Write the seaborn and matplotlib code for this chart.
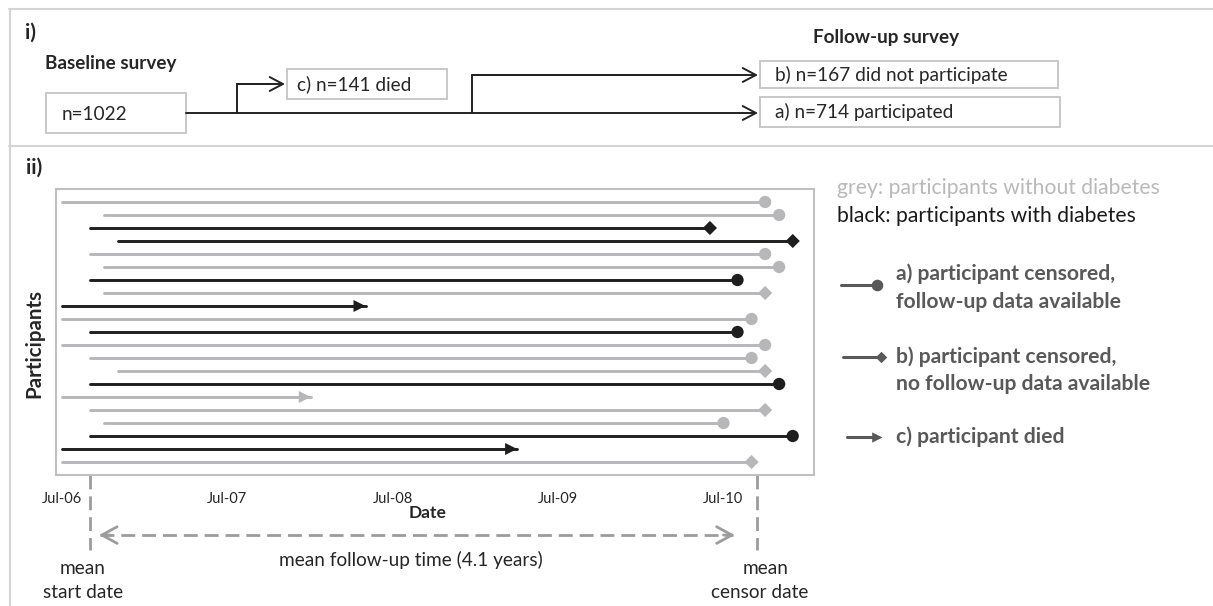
import numpy as np
import pandas as pd
import matplotlib
matplotlib.use("Agg")
import matplotlib.pyplot as plt
import matplotlib.dates as mdates
from matplotlib.path import Path
from matplotlib.patches import Rectangle
from matplotlib.transforms import blended_transform_factory, ScaledTranslation
import seaborn as sns

# ------------------------------------------------------------------ data
participant = list(range(1, 22))
diabetes = ["no", "no", "yes", "yes", "no", "no", "yes", "no", "yes", "no", "yes",
            "no", "no", "no", "yes", "no", "no", "no", "yes", "yes", "no"]
start_date = ["2006-07-15", "2006-10-15", "2006-09-15", "2006-11-15", "2006-09-15",
              "2006-10-15", "2006-09-15", "2006-10-15", "2006-07-15", "2006-07-15",
              "2006-09-15", "2006-07-15", "2006-09-15", "2006-11-15", "2006-09-15",
              "2006-07-15", "2006-09-15", "2006-10-15", "2006-09-15", "2006-07-15",
              "2006-07-15"]
end_date = ["2010-10-15", "2010-11-15", "2010-06-15", "2010-12-15", "2010-10-15",
            "2010-11-15", "2010-08-15", "2010-10-15", "2008-05-15", "2010-09-15",
            "2010-08-15", "2010-10-15", "2010-09-15", "2010-10-15", "2010-11-15",
            "2008-01-15", "2010-10-15", "2010-07-15", "2010-12-15", "2009-04-15",
            "2010-09-15"]
outcome = ["a", "a", "b", "b", "a", "a", "a", "b", "c", "a", "a",
           "a", "a", "b", "a", "c", "b", "a", "a", "c", "b"]

tick_dates = ["2006-07-01", "2007-07-01", "2008-07-01", "2009-07-01", "2010-07-01"]
tick_labels = ["Jul-06", "Jul-07", "Jul-08", "Jul-09", "Jul-10"]
x_range = ["2006-07-01", "2011-01-31"]
mean_start_date = "2006-09-14"
mean_censor_date = "2010-09-26"
mean_follow_up_years = 4.1

n_baseline = 1022
n_died = 141
n_not_participated = 167
n_participated = 714

# ------------------------------------------------------------------ style
sns.set_style("white")
plt.rcParams["font.family"] = ["Lato", "DejaVu Sans"]
TXT = "#262626"
GREY = "#b7b7ba"
BLACK = "#1e1e1e"
LEG = "#595959"
FRAME = "#d4d4d4"
DASH = "#9c9c9c"

W, H = 1213, 606
fig = plt.figure(figsize=(W / 100, H / 100), dpi=100)
fig.patch.set_facecolor("white")

bg = fig.add_axes([0, 0, 1, 1], zorder=0)
bg.set_xlim(0, W)
bg.set_ylim(H, 0)
bg.axis("off")

ax = fig.add_axes([56 / W, 1 - 475 / H, 758 / W, 286 / H], zorder=1)

# ------------------------------------------------------------------ timeline (panel ii)
df = pd.DataFrame({
    "participant": participant,
    "diabetes": diabetes,
    "start": pd.to_datetime(start_date),
    "end": pd.to_datetime(end_date),
    "outcome": outcome,
})
df["row"] = df["participant"]
long = df.melt(id_vars=["participant", "diabetes", "outcome", "row"],
               value_vars=["start", "end"], value_name="date")

pal = {"no": GREY, "yes": BLACK}
sns.lineplot(data=long, x="date", y="row", hue="diabetes", units="participant",
             estimator=None, palette=pal, linewidth=2.1, legend=False, ax=ax)

arrow_head = Path([(0, 0), (-1, 0.5), (-1, -0.5), (0, 0)],
                  [Path.MOVETO, Path.LINETO, Path.LINETO, Path.CLOSEPOLY])
sns.scatterplot(data=df, x="end", y="row", hue="diabetes", style="outcome",
                size="outcome",
                markers={"a": "o", "b": "D", "c": arrow_head},
                sizes={"a": 78, "b": 52, "c": 300},
                palette=pal, linewidth=0, legend=False, zorder=3, ax=ax)

ax.set_xlim(pd.Timestamp(x_range[0]), pd.Timestamp(x_range[1]))
ax.set_ylim(22, 0)
ax.set_yticks([])
ax.set_xticks(mdates.date2num(pd.to_datetime(tick_dates)))
ax.set_xticklabels(tick_labels)
ax.tick_params(axis="x", direction="out", length=5, width=1, color="#bfbfbf",
               labelsize=10.5, pad=7, labelcolor=TXT)
for lbl in ax.get_xticklabels():
    lbl.set_transform(lbl.get_transform() + ScaledTranslation(6 / 100, 0, fig.dpi_scale_trans))
for s in ax.spines.values():
    s.set_color("#c0c0c0")
    s.set_linewidth(1.5)

ax.set_xlabel("Date", fontsize=12.5, fontweight="bold", color=TXT)
ax.xaxis.set_label_coords(0.49, -0.133)
ax.xaxis.label.set_va("center")
ax.set_ylabel("Participants", fontsize=14.8, fontweight="bold", color=TXT)
ax.yaxis.label.set_va("center")
ax.yaxis.set_label_coords(-0.028, 0.46)

# mean start / censor markers below the axis
trans = blended_transform_factory(ax.transData, ax.transAxes)
ms = mdates.date2num(pd.Timestamp(mean_start_date))
mc = mdates.date2num(pd.Timestamp(mean_censor_date))
for xd in (ms, mc):
    ax.plot([xd, xd], [0, -0.262], transform=trans, clip_on=False, color=DASH,
            lw=2, dashes=(5, 2.5), solid_capstyle="butt", dash_capstyle="butt")
y_arr = -0.21
left_tip = ms + 20
right_tip = mc - 48
ax.plot([left_tip + 3, right_tip - 3], [y_arr, y_arr], transform=trans, clip_on=False,
        color=DASH, lw=2, dashes=(5, 2.5), dash_capstyle="butt")
for tip, tail in ((left_tip, left_tip + 25), (right_tip, right_tip - 25)):
    ax.annotate("", xy=(tip, y_arr), xytext=(tail, y_arr), xycoords=trans,
                textcoords=trans, annotation_clip=False,
                arrowprops=dict(arrowstyle="->,head_length=1.1,head_width=0.6",
                                color=DASH, lw=2, shrinkA=0, shrinkB=0))

FS_M = 13.7
bg.text(411, 560, f"mean follow-up time ({mean_follow_up_years} years)",
        fontsize=FS_M, color=TXT, ha="center", va="center")
bg.text(83, 568, "mean", fontsize=FS_M, color=TXT, ha="center", va="center")
bg.text(83, 593, "start date", fontsize=FS_M, color=TXT, ha="center", va="center")
bg.text(766, 568, "mean", fontsize=FS_M, color=TXT, ha="center", va="center")
bg.text(760, 593, "censor date", fontsize=FS_M, color=TXT, ha="center", va="center")

# ------------------------------------------------------------------ frame
bg.plot([9, W], [9, 9], color=FRAME, lw=1.5)
bg.plot([9, W], [146, 146], color=FRAME, lw=1.5)
bg.plot([10, 10], [9, H], color=FRAME, lw=1.5)

# ------------------------------------------------------------------ flow chart (panel i)
bg.text(25, 33, "i)", fontsize=15, fontweight="bold", color=TXT, ha="left", va="center")
bg.text(26, 168, "ii)", fontsize=15, fontweight="bold", color=TXT, ha="left", va="center")
bg.text(45, 63, "Baseline survey", fontsize=13.6, fontweight="bold", color=TXT,
        ha="left", va="center")
bg.text(813, 37, "Follow-up survey", fontsize=13.6, fontweight="bold", color=TXT,
        ha="left", va="center")

BOX = "#c8c8c8"
FS_B = 13.7
boxes = [
    ((46, 93, 140, 40), f"n={n_baseline}", (62, 114)),
    ((287, 69, 160, 30), f"c) n={n_died} died", (297, 84)),
    ((760, 61, 298, 27), f"b) n={n_not_participated} did not participate", (775, 75)),
    ((760, 97, 300, 30), f"a) n={n_participated} participated", (775, 112)),
]
for (x0, y0, w, h), label, (tx, ty) in boxes:
    bg.add_patch(Rectangle((x0, y0), w, h, fill=False, edgecolor=BOX, lw=1.4))
    bg.text(tx, ty, label, fontsize=FS_B, color=TXT, ha="left", va="center")

FL = "#222222"
bg.plot([237, 237, 270], [113, 84, 84], color=FL, lw=1.4)
bg.plot([472, 472, 740], [113, 75, 75], color=FL, lw=1.4)
arrow_kw = dict(arrowstyle="->,head_length=0.95,head_width=0.5", color=FL, lw=1.4,
                shrinkA=0, shrinkB=0)
bg.annotate("", xy=(285, 84), xytext=(237, 84), arrowprops=arrow_kw)
bg.annotate("", xy=(758, 75), xytext=(472, 75), arrowprops=arrow_kw)
bg.annotate("", xy=(758, 113), xytext=(186, 113), arrowprops=arrow_kw)

# ------------------------------------------------------------------ legend
bg.text(837, 188, "grey: participants without diabetes", fontsize=15.2, color="#b9b9b9",
        ha="left", va="center")
bg.text(837, 216, "black: participants with diabetes", fontsize=15.2, color="#1a1a1a",
        ha="left", va="center")

bg.plot([841, 877], [285, 285], color=LEG, lw=2.2)
bg.scatter([877], [285], s=70, color=LEG, marker="o", linewidths=0, zorder=3)
bg.plot([843, 881], [357, 357], color=LEG, lw=2.2)
bg.scatter([881], [357], s=34, color=LEG, marker="D", linewidths=0, zorder=3)
bg.plot([847, 878], [437, 437], color=LEG, lw=2.2)
bg.scatter([882], [437], s=220, color=LEG, marker=arrow_head, linewidths=0, zorder=3)

leg_txt = [
    (274, "a) participant censored,"),
    (302, "follow-up data available"),
    (357, "b) participant censored,"),
    (384, "no follow-up data available"),
    (437, "c) participant died"),
]
for yy, t in leg_txt:
    bg.text(896, yy, t, fontsize=15.2, fontweight="bold", color=LEG, ha="left", va="center")

fig.savefig("out.png", dpi=100, facecolor="white")
